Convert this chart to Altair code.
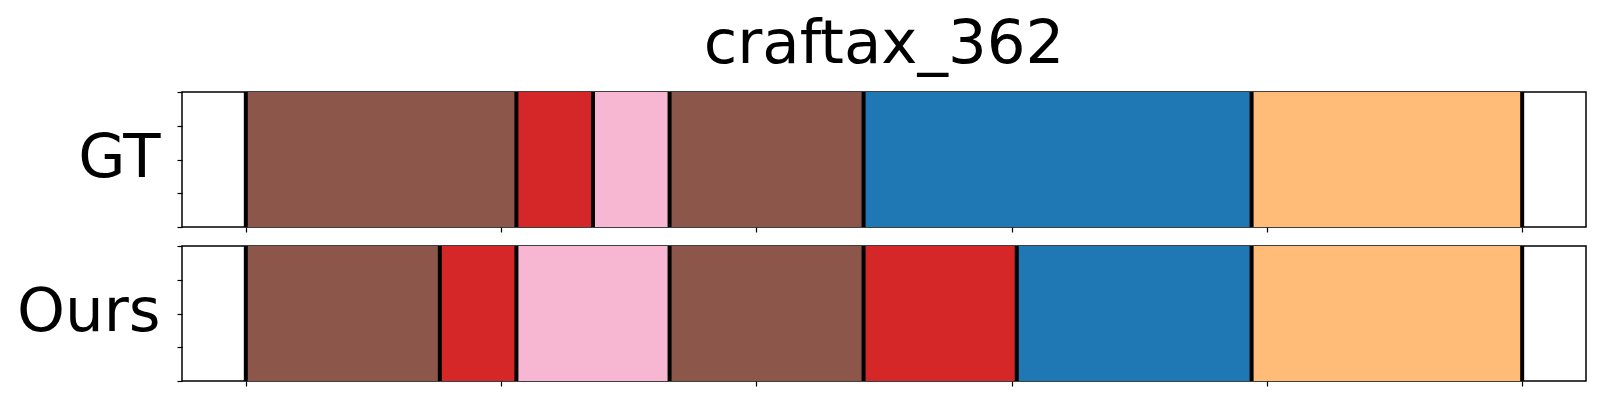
import altair as alt
import pandas as pd

# ---- data ----
title_text = "craftax_362"
row_labels = ["GT", "Ours"]

gt_starts = [0, 53, 68, 83, 121, 197]
gt_ends = [53, 68, 83, 121, 197, 250]
gt_classes = [10, 6, 13, 10, 0, 3]

ours_starts = [0, 38, 53, 83, 121, 151, 197]
ours_ends = [38, 53, 83, 121, 151, 197, 250]
ours_classes = [10, 6, 13, 10, 6, 0, 3]

x_ticks = [0, 50, 100, 150, 200, 250]
y_ticks = [0, 0.25, 0.5, 0.75, 1]

class_ids = [0, 3, 6, 10, 13]
class_colors = ["#1f77b4", "#ffbb78", "#d62728", "#8c564b", "#f7b6d2"]

x_domain = [-12.5, 262.5]


def panel(label, starts, ends, classes, title=None):
    seg = pd.DataFrame({"start": starts, "end": ends, "cls": classes,
                        "y0": [0] * len(starts), "y1": [1] * len(starts)})
    bd = pd.DataFrame({"t": sorted(set(starts) | set(ends))})
    xs = alt.Scale(domain=x_domain, nice=False, zero=False)
    ys = alt.Scale(domain=[0, 1], nice=False)
    x_axis = alt.Axis(values=x_ticks, labels=False, title=None, domain=False,
                      grid=False, tickSize=5, tickColor="black", tickWidth=1.2)
    y_axis = alt.Axis(values=y_ticks, labels=False, title=label, domain=False,
                      grid=False, tickSize=5, tickColor="black", tickWidth=1.2,
                      titleAngle=0, titleAlign="right", titleBaseline="middle",
                      titleX=-22, titleY=66, titleFontSize=61,
                      titleFont="DejaVu Sans", titleFontWeight="normal",
                      titleColor="black")
    rect = alt.Chart(seg).mark_rect().encode(
        x=alt.X("start:Q", scale=xs, axis=x_axis),
        x2="end:Q",
        y=alt.Y("y0:Q", scale=ys, axis=y_axis),
        y2="y1:Q",
        color=alt.Color("cls:N", scale=alt.Scale(domain=class_ids, range=class_colors),
                        legend=None),
    )
    rule = alt.Chart(bd).mark_rule(color="black", strokeWidth=4).encode(
        x=alt.X("t:Q", scale=xs)
    )
    ch = alt.layer(rect, rule).properties(width=1404, height=135)
    if title is not None:
        ch = ch.properties(title=alt.TitleParams(
            text=title, fontSize=61, font="DejaVu Sans", fontWeight="normal",
            color="black", anchor="middle", baseline="alphabetic", offset=-34))
    return ch


top = panel(row_labels[0], gt_starts, gt_ends, gt_classes, title=title_text)
bottom = panel(row_labels[1], ours_starts, ours_ends, ours_classes)

chart = alt.vconcat(top, bottom, spacing=9).properties(
    padding={"left": 7, "top": 5, "right": 5, "bottom": 5}
).configure_view(stroke="black", strokeWidth=1.5)

chart.save("out.html", embed_options={"renderer": "svg", "actions": False})
